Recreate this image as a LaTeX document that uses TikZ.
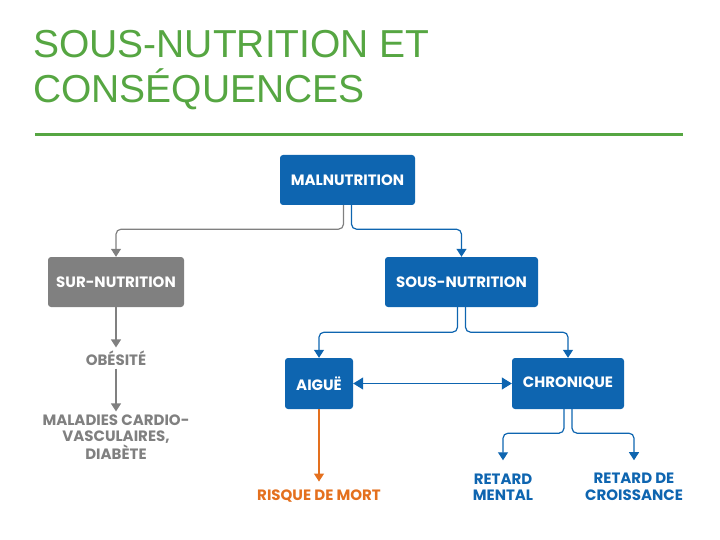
\documentclass[tikz,border=0pt]{standalone}
\usepackage{fontspec}
\setmainfont{Liberation Sans}
\newfontfamily\boxfont{Poppins}
\usetikzlibrary{arrows.meta, positioning, calc}
\definecolor{titlegreen}{RGB}{86,166,66}
\definecolor{boxblue}{RGB}{14,101,176}
\definecolor{boxgrey}{RGB}{128,128,128}
\definecolor{deathorange}{RGB}{228,112,30}

\begin{document}
\begin{tikzpicture}[x=1pt, y=-1pt,
  bluebox/.style={fill=boxblue, rounded corners=3pt, inner sep=0pt, text=white, font=\boxfont\bfseries\fontsize{15}{17}\selectfont},
  greybox/.style={bluebox, fill=boxgrey},
  leaf/.style={align=center, inner sep=3pt, font=\boxfont\bfseries\fontsize{15}{16.5}\selectfont},
  bline/.style={draw=boxblue, line width=1.2pt, rounded corners=5pt},
  gline/.style={draw=boxgrey, line width=1.2pt, rounded corners=5pt},
  tip/.style={-{Triangle[width=10pt,length=8pt]}}
]
  \useasboundingbox (0,0) rectangle (720,540);
  \node[anchor=west, align=left, text=titlegreen, font=\fontsize{39}{45}\selectfont, inner sep=0pt] (title) at (33,70) {SOUS-NUTRITION ET\\CONSÉQUENCES};
  \draw[titlegreen, line width=3pt] (35,135) -- (683,135);

  \node[bluebox, minimum width=135pt, minimum height=50pt] (malnu) at (347.5,180) {MALNUTRITION};
  \node[greybox, minimum width=136pt, minimum height=50pt] (surnu) at (116,282) {SUR-NUTRITION};
  \node[bluebox, minimum width=153pt, minimum height=50pt] (sousnu) at (461.5,282) {SOUS-NUTRITION};
  \node[bluebox, minimum width=68pt, minimum height=51pt] (aigue) at (319,383.5) {AIGUË};
  \node[bluebox, minimum width=112pt, minimum height=51pt] (chron) at (568,383.5) {CHRONIQUE};

  \node[leaf, text=boxgrey] (obes) at (116,358) {OBÉSITÉ};
  \node[leaf, text=boxgrey] (malad) at (116,437) {MALADIES CARDIO-\\VASCULAIRES,\\DIABÈTE};
  \node[leaf, text=deathorange] (mort) at (319,496) {RISQUE DE MORT};
  \node[leaf, text=boxblue] (mental) at (503,487) {RETARD\\MENTAL};
  \node[leaf, text=boxblue] (croiss) at (634,487) {RETARD DE\\CROISSANCE};

  % malnutrition branches
  \draw[gline, tip] ([xshift=-4pt]malnu.south) -- ++(0,24) -| (surnu.north);
  \draw[bline, tip] ([xshift=4pt]malnu.south) -- ++(0,24) -| (sousnu.north);
  \draw[gline, tip] (surnu) -- (obes);
  \draw[gline, tip] (obes) -- (malad);

  % sous-nutrition branches
  \draw[bline, tip] ([xshift=-4pt]sousnu.south) -- ++(0,25) -| (aigue.north);
  \draw[bline, tip] ([xshift=4pt]sousnu.south) -- ++(0,25) -| (chron.north);
  \draw[bline, {Triangle[width=12pt,length=10pt]}-{Triangle[width=12pt,length=10pt]}] (aigue) -- (chron);
  \draw[draw=deathorange, line width=1.2pt, tip] (aigue) -- ([yshift=5pt]mort.north);

  % chronique branches
  \draw[bline, tip] ([xshift=-4pt]chron.south) -- ++(0,24) -| ([yshift=10pt]mental.north);
  \draw[bline, tip] ([xshift=4pt]chron.south) -- ++(0,24) -| ([yshift=10pt]croiss.north);
\end{tikzpicture}
\end{document}
